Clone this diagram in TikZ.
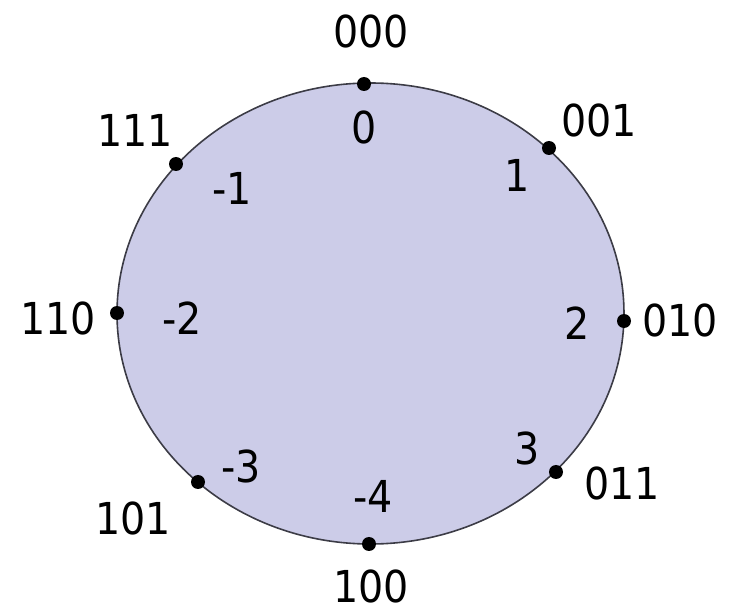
\documentclass[tikz,border=0pt]{standalone}
\usepackage{fontspec}
\setmainfont{DejaVu Sans Condensed}
\definecolor{ringfill}{RGB}{204,204,232}
\definecolor{ringline}{RGB}{60,60,70}
\begin{document}
\begin{tikzpicture}[x=0.5pt,y=-0.5pt,
  lbl/.style={font=\fontsize{22}{26}\selectfont, inner sep=0pt, anchor=center},
  pt/.style={circle, fill=black, inner sep=0pt, minimum size=7pt}]
\useasboundingbox (0,0) rectangle (741,610);
\draw[fill=ringfill, draw=ringline, line width=0.8pt] (370.5,313.5) ellipse [x radius=253.5, y radius=230.5];
\node[pt] (d0) at (364,84) {};
\node[pt] (d1) at (549,148) {};
\node[pt] (d2) at (624,321) {};
\node[pt] (d3) at (556,472) {};
\node[pt] (dm4) at (369,544) {};
\node[pt] (dm3) at (198,482) {};
\node[pt] (dm2) at (117,313) {};
\node[pt] (dm1) at (176,164) {};
\node[lbl] (b0) at (371,31) {000};
\node[lbl] (v0) at (364,127) {0};
\node[lbl] (b1) at (599,120) {001};
\node[lbl] (v1) at (517,175) {1};
\node[lbl] (bm1) at (135,130) {111};
\node[lbl] (vm1) at (232,188) {-1};
\node[lbl] (bm2) at (58,318) {110};
\node[lbl] (vm2) at (182,318) {-2};
\node[lbl] (v2) at (577,323) {2};
\node[lbl] (b2) at (680,320) {010};
\node[lbl] (v3) at (527,448) {3};
\node[lbl] (b3) at (622,483) {011};
\node[lbl] (vm3) at (241,466) {-3};
\node[lbl] (bm3) at (133,518) {101};
\node[lbl] (vm4) at (373,496) {-4};
\node[lbl] (bm4) at (371,586) {100};
\end{tikzpicture}
\end{document}
